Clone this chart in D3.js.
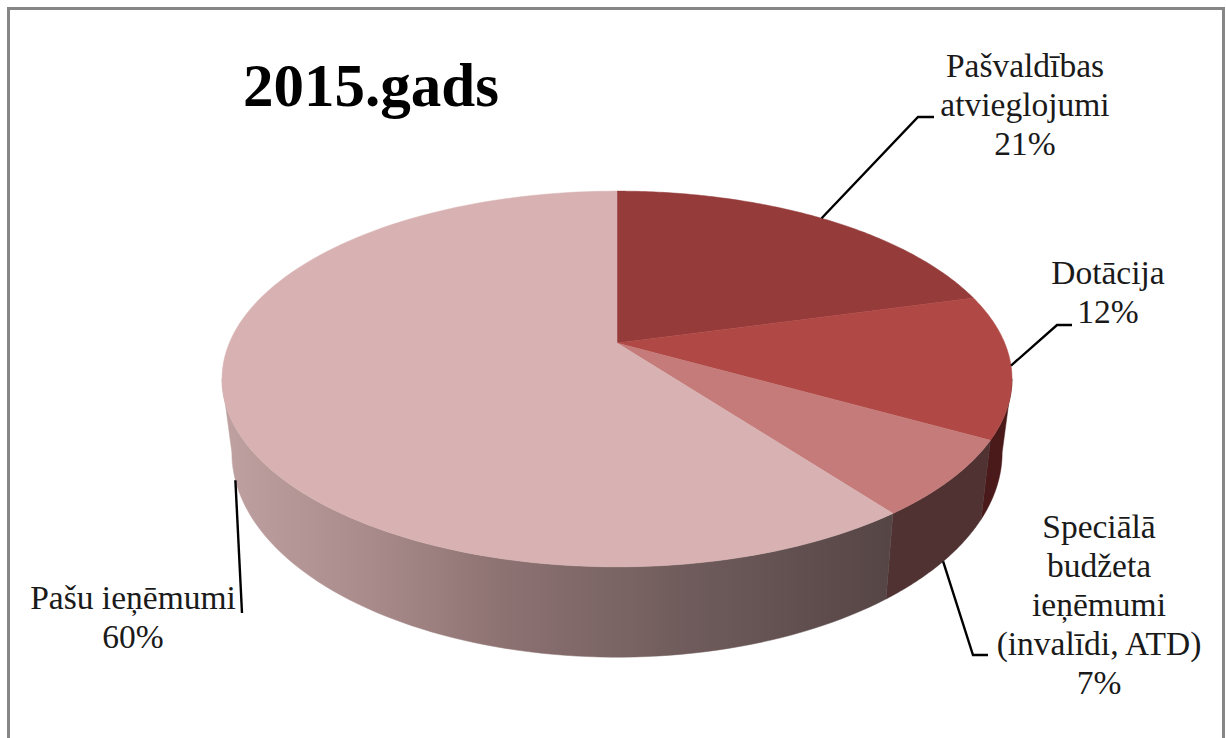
<!DOCTYPE html>
<html><head><meta charset="utf-8">
<script src="https://cdn.jsdelivr.net/npm/d3@7"></script>
<style>html,body{margin:0;padding:0;background:#fff}svg{display:block}text{font-family:"Liberation Serif",serif;fill:#1a1a1a}</style>
</head><body><svg id="c" width="1226" height="738"></svg>
<script>
const titleText = "2015.gads";
const categories = ["Pašvaldības atvieglojumi","Dotācija","Speciālā budžeta ieņēmumi (invalīdi, ATD)","Pašu ieņēmumi"];
const values = [20.8, 12.3, 6.6, 60.3];
const labelLines = [["Pašvaldības","atvieglojumi"],["Dotācija"],["Speciālā","budžeta","ieņēmumi","(invalīdi, ATD)"],["Pašu ieņēmumi"]];
const topColors = ["#953B3A","#B04845","#C47B79","#D8B2B3"];
const wallColors = ["#5a2020","#4A1A1A","#503232","url(#wallGrad)"];

const svg = d3.select("#c");
// frame
svg.append("path").attr("d","M8.5,738V8.5H1223.5V738").attr("fill","none").attr("stroke","#868686").attr("stroke-width",3);

const defs = svg.append("defs");
const grad = defs.append("linearGradient").attr("id","wallGrad").attr("gradientUnits","userSpaceOnUse")
  .attr("x1",222).attr("x2",892).attr("y1",0).attr("y2",0);
[[0,"#bfa1a1"],[0.2,"#ac8d8d"],[0.42,"#8d7272"],[0.7,"#6f5b5b"],[1,"#564545"]].forEach(s=>grad.append("stop").attr("offset",s[0]).attr("stop-color",s[1]));

// perspective projection of the pie's circular disc
const cx=617, persp=0.1915;
const projTop = t=>{const u=Math.sin(t),v=-Math.cos(t),w=1-persp*v;return [cx+387.7*u/w,343+181*v/w];};
const projBot = t=>{const u=Math.sin(t),v=-Math.cos(t),w=1-persp*v;return [cx+378*u/w,413.5+197*v/w];};

const arcs = d3.pie().sort(null).value(d=>d).startAngle(0).endAngle(2*Math.PI)(values);
const line = d3.line();
const sample=(a,b,n=80)=>d3.range(n+1).map(i=>a+(b-a)*i/n);
const rad=d=>d*Math.PI/180;
const leftLimit=rad(259), rightLimit=rad(101);

// walls
arcs.forEach((a,i)=>{
  const s=Math.max(a.startAngle,rightLimit), e=Math.min(a.endAngle,leftLimit);
  if(e<=s) return;
  const ts=sample(s,e);
  const pts=ts.map(projTop).concat(ts.slice().reverse().map(projBot));
  svg.append("path").attr("d",line(pts)+"Z").attr("fill",wallColors[i]).attr("stroke",wallColors[i]).attr("stroke-width",0.5);
});
// top faces
arcs.forEach((a,i)=>{
  const pts=[[cx,343]].concat(sample(a.startAngle,a.endAngle,120).map(projTop));
  svg.append("path").attr("d",line(pts)+"Z").attr("fill",topColors[i]).attr("stroke",topColors[i]).attr("stroke-width",0.5);
});

// leader lines start at each slice's mid angle
const mid=a=>(a.startAngle+a.endAngle)/2;
const leaderAnchors=[projTop(mid(arcs[0])),projTop(mid(arcs[1])),projBot(mid(arcs[2])),projBot(mid(arcs[3]))];
const leaderBends=[[[918,117],[934,117]],[[1057,325],[1072,325]],[[973,655],[988,655]],[[242,613]]];
leaderAnchors.forEach((p,i)=>{
  svg.append("path").attr("d",line([p].concat(leaderBends[i]))).attr("fill","none").attr("stroke","#000").attr("stroke-width",2.4);
});

// labels
const fs=33.5, lh=39;
const labelPos=[[1025,77],[1108,284],[1099,538],[133,609]];
labelLines.forEach((ls,i)=>{
  const all=ls.concat([Math.round(values[i])+"%"]);
  all.forEach((t,j)=>{
    svg.append("text").attr("x",labelPos[i][0]).attr("y",labelPos[i][1]+j*lh)
      .attr("text-anchor","middle").attr("font-size",fs).text(t);
  });
});
svg.append("text").attr("x",243).attr("y",106).attr("font-size",61).attr("font-weight","bold").style("fill","#000").text(titleText);
</script></body></html>
